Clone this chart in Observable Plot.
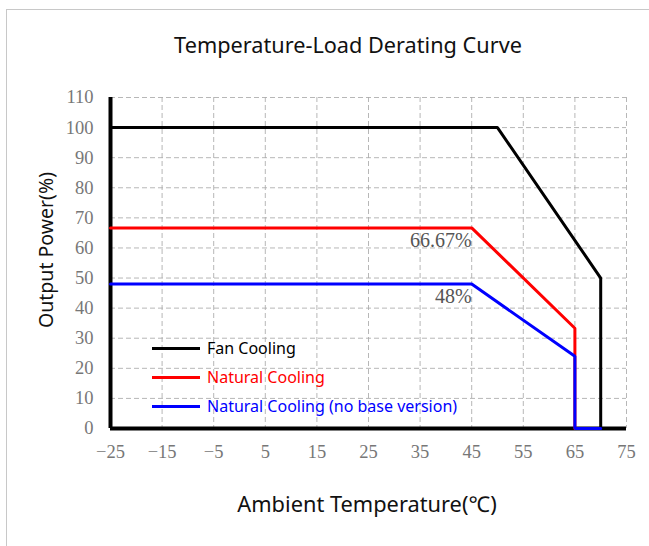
<!DOCTYPE html>
<html><head><meta charset="utf-8">
<script src="https://cdn.jsdelivr.net/npm/d3@7"></script>
<script src="https://cdn.jsdelivr.net/npm/@observablehq/plot@0.6"></script>
<style>
body{margin:0;background:#fff;overflow:hidden;}
#wrap{position:relative;width:649px;height:546px;overflow:hidden;}
#frame{position:absolute;left:6px;top:9px;width:700px;height:600px;border:1.5px solid #c8c8c8;box-sizing:border-box;}
#title{position:absolute;left:0;top:30px;width:696px;text-align:center;font:21.7px "Noto Sans",sans-serif;color:#111;}
#chart{position:absolute;left:0;top:0;}
#legend{position:absolute;left:152px;top:334px;font:16px "Noto Sans",sans-serif;line-height:29px;}
#legend div{display:flex;align-items:center;}
#legend span.sw{display:inline-block;width:48px;height:0;border-top:3px solid;margin-right:7px;}
</style></head>
<body>
<div id="wrap">
<div id="frame"></div>
<div id="chart"></div>
<div id="title">Temperature-Load Derating Curve</div>
<div id="legend"></div>
</div>
<script>
const seriesNames = ["Fan Cooling", "Natural Cooling", "Natural Cooling (no base version)"];
const seriesColors = ["#000000", "#ff0000", "#0000ff"];
const fanTemp = [-25, 50, 70, 70];
const fanPower = [100, 100, 50, 0];
const natTemp = [-25, 45, 65, 65];
const natPower = [66.67, 66.67, 33.33, 0];
const noBaseTemp = [-25, 45, 65, 65, 70];
const noBasePower = [48, 48, 24, 0, 0];
const xTicks = [-25, -15, -5, 5, 15, 25, 35, 45, 55, 65, 75];
const yTicks = [0, 10, 20, 30, 40, 50, 60, 70, 80, 90, 100, 110];
const annoTemp = [45, 45];
const annoPower = [66.67, 48];
const annoText = ["66.67%", "48%"];

const toRows = (t, p, s) => t.map((x, i) => ({t: x, p: p[i], s}));
const rows = [
  ...toRows(fanTemp, fanPower, seriesNames[0]),
  ...toRows(natTemp, natPower, seriesNames[1]),
  ...toRows(noBaseTemp, noBasePower, seriesNames[2])
];
const annos = annoTemp.map((t, i) => ({t, p: annoPower[i], text: annoText[i]}));

const chart = Plot.plot({
  width: 649,
  height: 546,
  marginLeft: 110,
  marginRight: 23,
  marginTop: 97,
  marginBottom: 118,
  style: {background: "transparent", overflow: "visible"},
  x: {domain: [-25, 75], ticks: xTicks, label: null},
  y: {domain: [0, 110], ticks: yTicks, label: null},
  color: {domain: seriesNames, range: seriesColors},
  marks: [
    Plot.gridX(xTicks, {stroke: "#aaa", strokeOpacity: 0.85, strokeDasharray: "5,3", strokeWidth: 1}),
    Plot.gridY(yTicks, {stroke: "#aaa", strokeOpacity: 0.85, strokeDasharray: "5,3", strokeWidth: 1}),
    Plot.axisX(xTicks, {tickSize: 0, tickPadding: 16, fontSize: 18.5, fontFamily: "Liberation Serif", fill: "#777", label: null}),
    Plot.axisY(yTicks, {tickSize: 0, tickPadding: 17, fontSize: 18.5, fontFamily: "Liberation Serif", fill: "#777", label: null}),
    Plot.ruleX([-25], {stroke: "#000", strokeWidth: 4}),
    Plot.ruleY([0], {stroke: "#000", strokeWidth: 4}),
    Plot.line(rows, {x: "t", y: "p", z: "s", stroke: "s", strokeWidth: 3, strokeLinejoin: "miter"}),
    Plot.text(annos, {x: "t", y: "p", text: "text", textAnchor: "end", dy: 13, fontSize: 20, fontFamily: "Liberation Serif", fill: "#555"})
  ]
});
document.getElementById("chart").appendChild(chart);

// axis titles
const svg = d3.select(chart);
svg.append("text").attr("x", 367).attr("y", 512).attr("text-anchor", "middle")
  .style("font", "21.8px 'Noto Sans', sans-serif").attr("fill", "#111").text("Ambient Temperature(℃)");
svg.append("text").attr("transform", "translate(53,250) rotate(-90)").attr("text-anchor", "middle")
  .style("font", "19.5px 'Noto Sans', sans-serif").attr("fill", "#111").text("Output Power(%)");

const legend = document.getElementById("legend");
seriesNames.forEach((n, i) => {
  const d = document.createElement("div");
  d.innerHTML = `<span class="sw" style="border-color:${seriesColors[i]}"></span><span style="color:${seriesColors[i]}">${n}</span>`;
  legend.appendChild(d);
});
</script>
</body></html>
